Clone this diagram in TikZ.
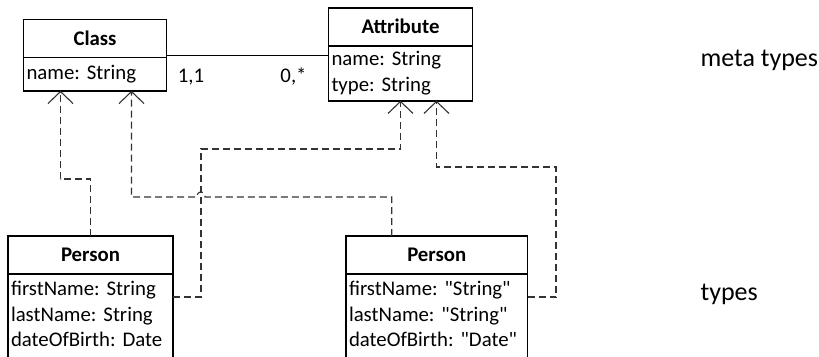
\documentclass[tikz,border=0pt]{standalone}
\usepackage{fontspec}
\setmainfont{Carlito}[Ligatures=TeXOff]
\usetikzlibrary{arrows.meta}
\frenchspacing

\begin{document}
\begin{tikzpicture}[x=1pt, y=-1pt]
            \tikzstyle{every node} = [font=\fontsize{20.8}{25.5}\selectfont]
            \tikzstyle{hdr} = [draw, line width=1.6pt, outer sep=0pt, inner sep=0pt, minimum height=38pt,
                font=\fontsize{20.8}{25.5}\selectfont\bfseries]
            \tikzstyle{attrs} = [draw, line width=1.6pt, outer sep=0pt, anchor=north, align=left,
                inner xsep=3pt, inner ysep=4pt]
            \tikzstyle{dep} = [line width=1.1pt, black!80, dash pattern=on 7pt off 4pt,
                -{Straight Barb[length=12pt, width=25pt]}]
            \tikzstyle{mult} = [anchor=base]
            \tikzstyle{level} = [anchor=base west, font=\fontsize{26}{31}\selectfont]

            \path[use as bounding box, clip] (0,0) rectangle (819,356);

            % meta types
            \node[hdr, minimum width=143pt] (cls) at (95,38.3) {Class};
            \node[attrs, text width=137pt] (cls-a) at (cls.south) {\strut name: String};
            \node[hdr, minimum width=144pt] (attr) at (400.5,26.7) {Attribute};
            \node[attrs, text width=138pt, inner ysep=2pt] (attr-a) at (attr.south)
                {\strut name: String\\\strut type: String};
            \draw[line width=1pt] (cls.east |- 0,55) -- (attr-a.west |- 0,55);
            \node[mult] (m-cls) at (191,82) {1,1};
            \node[mult] (m-attr) at (293.5,82) {0,*};

            % types
            \node[hdr, minimum width=165pt] (p1) at (90.5,255) {Person};
            \node[attrs, text width=159pt] (p1-a) at (p1.south)
                {\strut firstName: String\\\strut lastName: String\\\strut dateOfBirth: Date};
            \node[hdr, minimum width=181.5pt] (p2) at (436.75,255) {Person};
            \node[attrs, text width=175.5pt] (p2-a) at (p2.south)
                {\strut firstName: "String"\\\strut lastName: "String"\\\strut dateOfBirth: "Date"};

            \node[level] (meta) at (697,66.7) {meta types};
            \node[level] (inst) at (697,300) {types};

            % instance-of links
            \draw[dep] (p1.north) |- (60,179) -| ([xshift=37pt]cls-a.south west);
            \draw[dep] ([xshift=-45pt]p2.north) |- (205,197)
                .. controls (205,190) and (197,190) .. (197,197) -| ([xshift=108pt]cls-a.south west);
            \draw[dep] ([yshift=-23pt]p1-a.north east) -| (201,149) -| (attr-a.south);
            \draw[dep] ([yshift=-23pt]p2-a.north east) -| (556,167) -| ([xshift=36pt]attr-a.south);
        \end{tikzpicture}
\end{document}
